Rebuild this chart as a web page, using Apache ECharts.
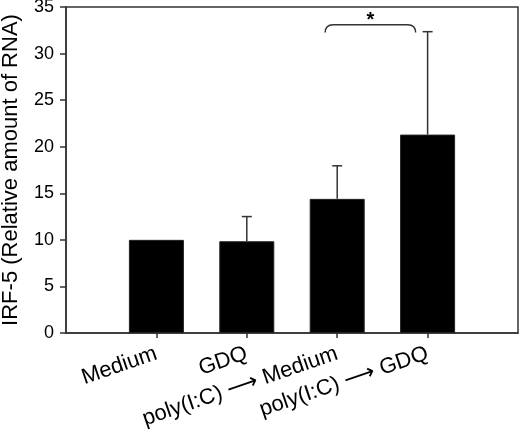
<!DOCTYPE html>
<html>
<head>
<meta charset="utf-8">
<script src="https://cdn.jsdelivr.net/npm/echarts@6/dist/echarts.min.js"></script>
<style>
  html, body { margin: 0; padding: 0; background: #fff; }
  #chart { width: 520px; height: 434px; }
</style>
</head>
<body>
<div id="chart"></div>
<script>
// groups on the x axis
var categories = ['Medium', 'GDQ', 'poly(I:C) \u27F6 Medium', 'poly(I:C) \u27F6 GDQ'];
// mean relative amount of RNA and upper error (SD)
var means = [10.0, 9.85, 14.4, 21.3];
var errors = [0, 2.65, 3.55, 11.05];
var yTicks = [0, 5, 10, 15, 20, 25, 30, 35];
// significance bracket: between group 3 and 4
var sigPair = [2, 3];
var sigLevel = 33.1;
var sigDrop = 0.85;
var sigText = '*';

var font = 'Liberation Sans, Arial, Helvetica, DejaVu Sans, sans-serif';
var chart = echarts.init(document.getElementById('chart'));

// pad an empty slot on each side so the bars sit like the original
var xCats = [''].concat(categories).concat(['']);
var barData = ['-'].concat(means).concat(['-']);
var errData = [];
for (var i = 0; i < means.length; i++) {
  if (errors[i] > 0) errData.push([i + 1, means[i], means[i] + errors[i]]);
}

var option = {
  animation: false,
  grid: {
    left: 66, right: 2, top: 7, bottom: 101,
    outerBoundsMode: 'none',
    containLabel: false,
    show: true, borderColor: '#333', borderWidth: 1.5, backgroundColor: '#fff'
  },
  xAxis: {
    type: 'category',
    data: xCats,
    boundaryGap: false,
    axisLine: { lineStyle: { color: '#333', width: 1.5 } },
    axisTick: {
      length: 5,
      lineStyle: { color: '#333', width: 1.5 },
      interval: function (idx) { return idx > 0 && idx < xCats.length - 1; }
    },
    axisLabel: {
      interval: 0, rotate: 19, margin: 20,
      color: '#000', fontSize: 22, fontFamily: font
    },
    splitLine: { show: false }
  },
  yAxis: {
    type: 'value',
    min: yTicks[0], max: yTicks[yTicks.length - 1], interval: 5,
    name: 'IRF-5 (Relative amount of RNA)',
    nameLocation: 'middle',
    nameGap: 44,
    nameTextStyle: { color: '#000', fontSize: 22, fontFamily: font },
    axisLine: { show: true, lineStyle: { color: '#333', width: 1.5 } },
    axisTick: { show: true, length: 6, lineStyle: { color: '#333', width: 1.5 } },
    axisLabel: { color: '#000', fontSize: 18, fontFamily: font, margin: 12 },
    splitLine: { show: false }
  },
  series: [
    {
      type: 'bar',
      data: barData,
      barWidth: 55,
      itemStyle: { color: '#000', borderColor: '#222', borderWidth: 1 }
    },
    {
      type: 'custom',
      data: errData,
      renderItem: function (params, api) {
        var p0 = api.coord([api.value(0), api.value(1)]);
        var p1 = api.coord([api.value(0), api.value(2)]);
        var st = { stroke: '#333', lineWidth: 1.5 };
        return {
          type: 'group',
          children: [
            { type: 'line', shape: { x1: p0[0], y1: p0[1], x2: p1[0], y2: p1[1] }, style: st },
            { type: 'line', shape: { x1: p1[0] - 5, y1: p1[1], x2: p1[0] + 5, y2: p1[1] }, style: st }
          ]
        };
      },
      z: 3
    },
    {
      type: 'custom',
      data: [[sigPair[0] + 1, sigPair[1] + 1, sigLevel, sigLevel - sigDrop]],
      renderItem: function (params, api) {
        var a = api.coord([api.value(0), api.value(2)]);
        var b = api.coord([api.value(1), api.value(2)]);
        var lo = api.coord([api.value(0), api.value(3)]);
        var x1 = a[0] - 12, x2 = b[0] - 12, y = a[1], y2 = lo[1], r = 4;
        var path = 'M' + x1 + ',' + y2 +
          ' Q' + x1 + ',' + y + ' ' + (x1 + r * 2) + ',' + y +
          ' L' + (x2 - r * 2) + ',' + y +
          ' Q' + x2 + ',' + y + ' ' + x2 + ',' + y2;
        return {
          type: 'group',
          children: [
            { type: 'path', shape: { pathData: path }, style: { stroke: '#333', lineWidth: 1.5, fill: null } },
            {
              type: 'text',
              style: {
                text: sigText, x: (x1 + x2) / 2, y: y + 6,
                align: 'center', verticalAlign: 'bottom',
                fill: '#000', font: 'bold 20px ' + font
              }
            }
          ]
        };
      },
      z: 4
    }
  ]
};
chart.setOption(option);
</script>
</body>
</html>
